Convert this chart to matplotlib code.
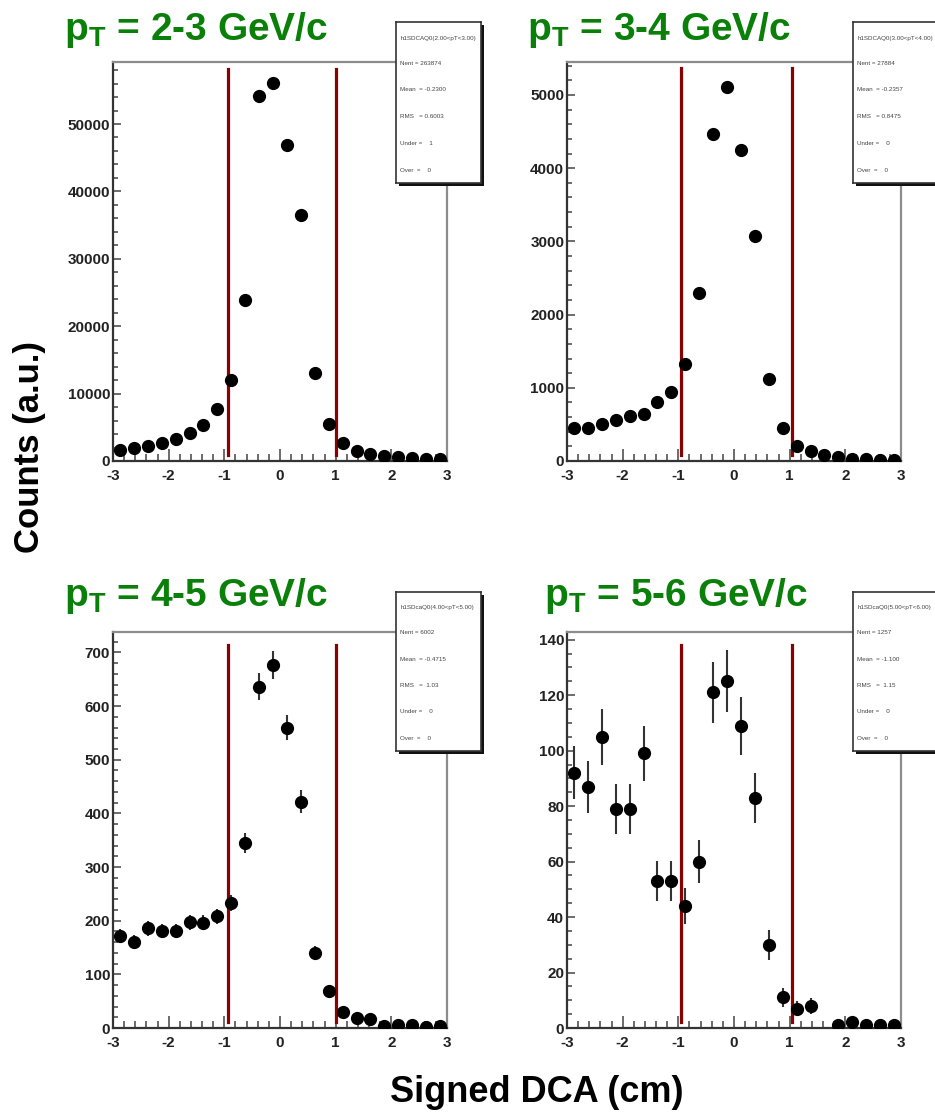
import matplotlib
matplotlib.use("Agg")
import matplotlib.pyplot as plt
from matplotlib.ticker import MultipleLocator, AutoMinorLocator, FormatStrFormatter
import numpy as np

plt.rcParams['font.family'] = ['Liberation Sans', 'DejaVu Sans']
plt.rcParams['mathtext.fontset'] = 'custom'
plt.rcParams['mathtext.rm'] = 'Liberation Sans'
plt.rcParams['mathtext.bf'] = 'Liberation Sans:bold'

# signed DCA bins, width 0.25 cm
dca = np.linspace(-2.875, 2.875, 24)

counts_23 = [1700, 1970, 2270, 2670, 3310, 4150, 5390, 7670, 12000, 23900, 54200, 56100,
             46900, 36500, 13000, 5490, 2720, 1530, 1090, 740, 590, 500, 340, 300]
counts_34 = [450, 448, 507, 557, 611, 648, 808, 949, 1324, 2290, 4470, 5110,
             4250, 3070, 1119, 452, 210, 137, 86, 55, 32, 23, 18, 9]
counts_45 = [171, 160, 186, 181, 181, 197, 196, 208, 233, 345, 636, 676,
             560, 422, 140, 69, 30, 19, 17, 3, 5, 5, 1, 3]
errors_45 = [13, 13, 14, 13, 13, 14, 14, 14, 15, 19, 25, 26,
             24, 21, 12, 8, 5.5, 4.4, 4.1, 1.7, 2.2, 2.2, 1, 1.7]
counts_56 = [92, 87, 105, 79, 79, 99, 53, 53, 44, 60, 121, 125,
             109, 83, 30, 11, 7, 8, np.nan, 1, 2, 1, 1, 1]
errors_56 = [9.6, 9.3, 10.2, 8.9, 8.9, 9.9, 7.3, 7.3, 6.6, 7.7, 11, 11.2,
             10.4, 9.1, 5.5, 3.3, 2.6, 2.8, 0, 1, 1.4, 1, 1, 1]

titles = [r"$\mathbf{p_T}$ = 2-3 GeV/c", r"$\mathbf{p_T}$ = 3-4 GeV/c",
          r"$\mathbf{p_T}$ = 4-5 GeV/c", r"$\mathbf{p_T}$ = 5-6 GeV/c"]
y_max = [59200, 5450, 738, 142.8]
y_major = [10000, 1000, 100, 20]
y_minor = [5, 5, 5, 4]
cut_lo = [-0.93, -0.96, -0.93, -0.96]
cut_hi = [1.0, 1.04, 1.0, 1.04]
cut_top = [0.982, 0.985, 0.967, 0.967]

stats = [
    ["h1SDCAQ0(2.00<pT<3.00)", "Nent = 263874", "Mean  = -0.2300", "RMS   = 0.6003", "Under =    1", "Over  =    0"],
    ["h1SDCAQ0(3.00<pT<4.00)", "Nent = 27884", "Mean  = -0.2357", "RMS   = 0.8475", "Under =    0", "Over  =    0"],
    ["h1SDcaQ0(4.00<pT<5.00)", "Nent = 6002", "Mean  = -0.4715", "RMS   =  1.03", "Under =    0", "Over  =    0"],
    ["h1SDcaQ0(5.00<pT<6.00)", "Nent = 1257", "Mean  = -1.100", "RMS   =  1.15", "Under =    0", "Over  =    0"],
]

all_counts = [counts_23, counts_34, counts_45, counts_56]
all_errors = [None, None, errors_45, errors_56]

W, H = 935, 1120
fig = plt.figure(figsize=(W / 100, H / 100), dpi=100)


def px_rect(x0, y0, x1, y1):
    return [x0 / W, 1 - y1 / H, (x1 - x0) / W, (y1 - y0) / H]


# pixel frames: plot area, stat box, title anchor
frames = [(113, 62, 447, 461), (567, 62, 901, 461),
          (113, 632, 447, 1028), (567, 632, 901, 1028)]
boxes = [(396, 22, 481, 183), (853, 22, 938, 183),
         (396, 592, 481, 751), (853, 592, 938, 751)]
title_xy = [(64, 40), (527, 40), (64, 606), (544, 606)]

green = '#0a800a'
dark = '#222222'

for i in range(4):
    ax = fig.add_axes(px_rect(*frames[i]))
    c = np.array(all_counts[i], dtype=float)
    if all_errors[i] is None:
        ax.plot(dca, c, 'o', color='black', ms=8.5, zorder=3)
    else:
        ax.errorbar(dca, c, yerr=all_errors[i], fmt='o', color='black', ecolor='#333333',
                    ms=8.5, elinewidth=1.5, capsize=0, zorder=3)
    ax.axvline(cut_lo[i], ymin=0.015, ymax=cut_top[i], color='#8b0000', lw=2.3, zorder=2)
    ax.axvline(cut_hi[i], ymin=0.015, ymax=cut_top[i], color='#8b0000', lw=2.3, zorder=2)

    ax.set_xlim(-3, 3)
    ax.set_ylim(0, y_max[i])
    ax.xaxis.set_major_locator(MultipleLocator(1))
    ax.xaxis.set_minor_locator(AutoMinorLocator(5))
    ax.yaxis.set_major_locator(MultipleLocator(y_major[i]))
    ax.yaxis.set_minor_locator(AutoMinorLocator(y_minor[i]))
    ax.xaxis.set_major_formatter(FormatStrFormatter('%d'))
    ax.yaxis.set_major_formatter(FormatStrFormatter('%d'))

    ax.tick_params(axis='x', which='major', direction='in', length=9, width=1.1,
                   color='#444444', labelsize=11, pad=6, labelcolor=dark)
    ax.tick_params(axis='x', which='minor', direction='in', length=5, width=1.1, color='#444444')
    ax.tick_params(axis='y', which='major', direction='in', length=6, width=1.1,
                   color='#444444', labelsize=11, pad=2, labelcolor=dark)
    ax.tick_params(axis='y', which='minor', direction='in', length=3.6, width=1.1, color='#444444')
    for lab in ax.get_xticklabels() + ax.get_yticklabels():
        lab.set_fontweight('bold')

    ax.spines['left'].set_color('#333333')
    ax.spines['bottom'].set_color('#333333')
    ax.spines['top'].set_color('#8c8c8c')
    ax.spines['right'].set_color('#8c8c8c')
    for s in ax.spines.values():
        s.set_linewidth(1.6)

    tx, ty = title_xy[i]
    fig.text(tx / W, 1 - ty / H, titles[i], color=green, fontsize=28,
             fontweight='bold', va='baseline', ha='left')

    # stat box with its drop shadow
    bx0, by0, bx1, by1 = boxes[i]
    sh = fig.add_axes(px_rect(bx0 + 3, by0 + 3, bx1 + 3, by1 + 3))
    sh.set_facecolor('#111111')
    sh.set_xticks([])
    sh.set_yticks([])
    for s in sh.spines.values():
        s.set_visible(False)
    box = fig.add_axes(px_rect(bx0, by0, bx1, by1))
    box.set_facecolor('white')
    box.set_xticks([])
    box.set_yticks([])
    for s in box.spines.values():
        s.set_color('#333333')
        s.set_linewidth(1.2)
    for line, yf in zip(stats[i], [0.90, 0.745, 0.578, 0.41, 0.248, 0.08]):
        box.text(0.05, yf, line, fontsize=4.5, color='#444444', va='center',
                 ha='left', transform=box.transAxes, clip_on=True)

fig.text(30 / W, 1 - 447 / H, "Counts (a.u.)", rotation=90, fontsize=25,
         fontweight='bold', ha='center', va='center', color='black')
fig.text(537 / W, 1 - 1093 / H, "Signed DCA (cm)", fontsize=26,
         fontweight='bold', ha='center', va='center', color='black')

fig.savefig("out.png", dpi=100)
